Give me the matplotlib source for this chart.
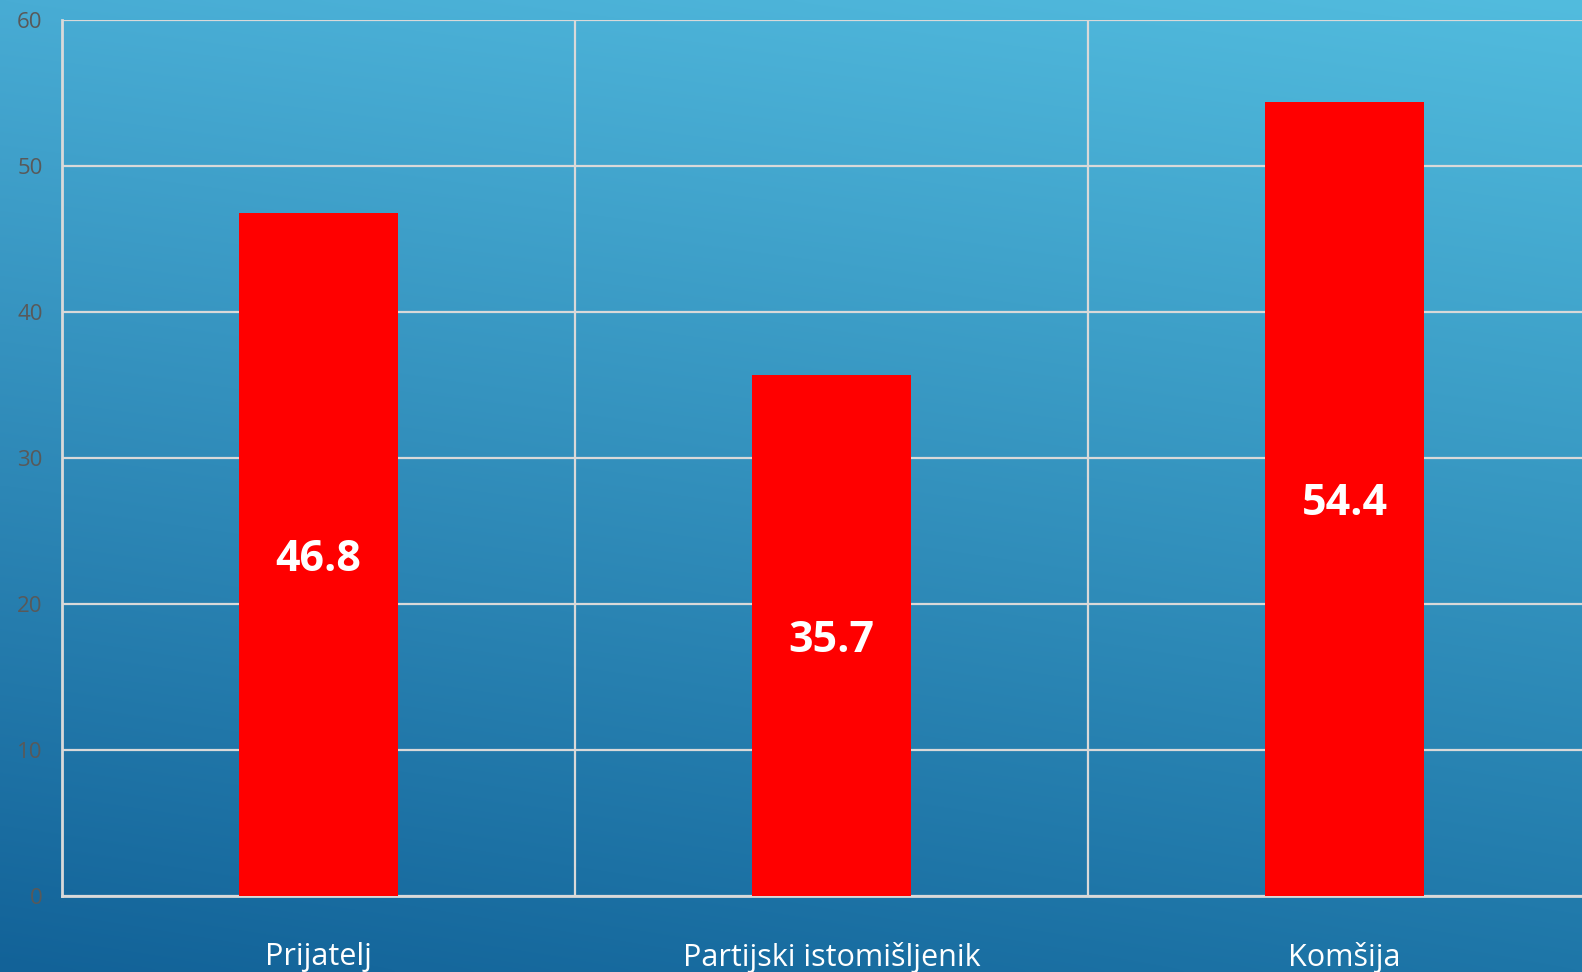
import matplotlib.pyplot as plt
import numpy as np

categories = ["Prijatelj", "Partijski istomišljenik", "Komšija"]
values = [46.8, 35.7, 54.4]
value_labels = ["46.8", "35.7", "54.4"]
y_ticks = [0, 10, 20, 30, 40, 50, 60]

plt.rcParams['font.family'] = ['Open Sans', 'DejaVu Sans']

fig = plt.figure(figsize=(15.82, 9.72), dpi=100)

# background gradient (lighter top-right, darker bottom-left)
bg = fig.add_axes([0, 0, 1, 1], zorder=0)
bg.axis('off')
corners = {
    'tl': np.array([72, 172, 212]) / 255,
    'tr': np.array([82, 188, 222]) / 255,
    'bl': np.array([18, 98, 152]) / 255,
    'br': np.array([30, 118, 168]) / 255,
}
ny, nx = 200, 300
v = np.linspace(0, 1, ny)[:, None, None]
u = np.linspace(0, 1, nx)[None, :, None]
grad = ((1 - v) * ((1 - u) * corners['tl'] + u * corners['tr'])
        + v * ((1 - u) * corners['bl'] + u * corners['br']))
bg.imshow(grad, aspect='auto', extent=[0, 1, 0, 1], interpolation='bicubic')
bg.set_xlim(0, 1)
bg.set_ylim(0, 1)

ax = fig.add_axes([62 / 1582, 76 / 972, 1539 / 1582, 876 / 972], zorder=1)
ax.patch.set_alpha(0)

x = np.arange(len(categories))
ax.bar(x, values, width=0.31, color='#ff0000', zorder=3)

for xi, val, lab in zip(x, values, value_labels):
    ax.text(xi, val / 2, lab, ha='center', va='center_baseline', color='white',
            fontsize=31, fontweight='bold', zorder=4)

ax.set_xlim(-0.5, len(categories) - 0.5)
ax.set_ylim(0, 60)
ax.set_yticks(y_ticks)
ax.set_xticks(x)
ax.set_xticklabels(categories, color='white', fontsize=22)
ax.set_xticks(np.arange(len(categories) - 1) + 0.5, minor=True)

grid_col = '#d9d9d9'
ax.grid(axis='y', which='major', color=grid_col, linewidth=1.6, zorder=1)
ax.grid(axis='x', which='minor', color=grid_col, linewidth=1.6, zorder=1)
ax.grid(axis='x', which='major', visible=False)

ax.tick_params(axis='y', length=0, pad=14, labelsize=16, labelcolor='#595959')
ax.tick_params(axis='x', which='both', length=0, pad=33)

for side in ['top', 'right']:
    ax.spines[side].set_visible(False)
for side in ['left', 'bottom']:
    ax.spines[side].set_color(grid_col)
    ax.spines[side].set_linewidth(2)
    ax.spines[side].set_zorder(2)

fig.savefig('out.png', dpi=100)
